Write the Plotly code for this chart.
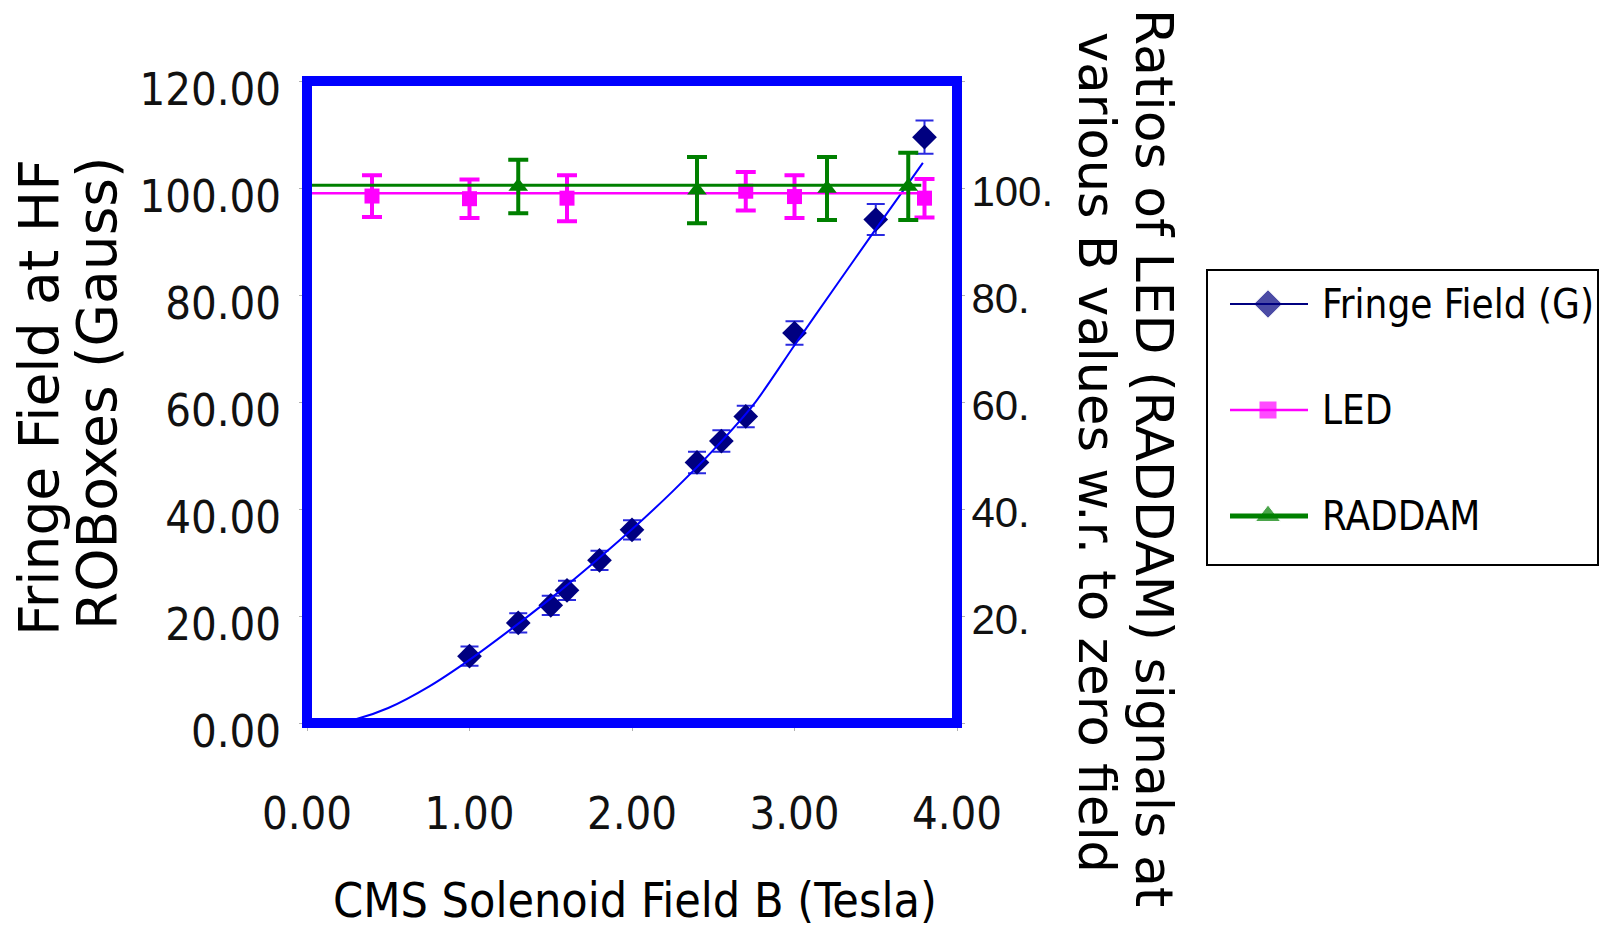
import plotly.graph_objects as go

W, H = 1601, 933

# ---------------- data ----------------
fringe_b = [1.0, 1.3, 1.5, 1.6, 1.8, 2.0, 2.4, 2.55, 2.7, 3.0, 3.5, 3.8]
fringe_g = [12.5, 18.7, 22.0, 24.8, 30.4, 36.1, 48.7, 52.7, 57.3, 72.9, 94.1, 109.5]
fringe_err = [1.8, 1.8, 1.8, 1.8, 1.8, 1.8, 2.0, 2.0, 2.0, 2.2, 2.9, 3.1]

fit_b = [0.16, 0.3, 0.5, 0.75, 1.0, 1.25, 1.5, 1.75, 2.0, 2.25, 2.5, 2.75, 3.0, 3.25, 3.5, 3.79]
fit_g = [0.0, 0.7, 2.8, 6.8, 11.8, 17.4, 23.3, 29.6, 36.2, 43.3, 51.0, 59.6, 70.6, 81.5, 92.3, 104.7]

led_b = [0.4, 1.0, 1.6, 2.7, 3.0, 3.8]
led_ratio = [98.5, 98.0, 98.1, 99.4, 98.4, 98.1]
led_err = [3.9, 3.6, 4.3, 3.6, 4.0, 3.6]

raddam_b = [1.3, 2.4, 3.2, 3.7]
raddam_ratio = [100.3, 99.6, 99.9, 100.3]
raddam_err = [5.0, 6.2, 5.9, 6.3]

led_fit_b = [0.0, 3.78]
led_fit = [99.0, 99.0]
raddam_fit_b = [0.0, 3.78]
raddam_fit = [100.5, 100.5]

x_ticks = [0, 1, 2, 3, 4]
left_ticks = [0, 20, 40, 60, 80, 100, 120]
right_ticks = [0, 20, 40, 60, 80, 100, 120]
right_ticktext = ["", "20.", "40.", "60.", "80.", "100.", ""]

legend_names = ["Fringe Field (G)", "LED", "RADDAM"]

# ---------------- styles ----------------
NARROW = "Liberation Sans Narrow, Arial Narrow, DejaVu Sans Condensed, sans-serif"
ARIAL = "Liberation Sans, Arial, sans-serif"
WIDE = "DejaVu Sans, Verdana, sans-serif"
NAVY = "#000080"
BLUE = "#0000FF"
PINK = "#FF00FF"
GREEN = "#008000"

# plot-area pixel box
PL, PR, PT, PB = 307, 957, 81, 723


def px(x):
    return x / W


def py(y):
    return 1 - y / H


fig = go.Figure()

# Fringe field points (navy diamonds with error bars)
fig.add_trace(go.Scatter(
    x=fringe_b, y=fringe_g, mode="markers", name=legend_names[0],
    marker=dict(symbol="diamond", size=19, color=NAVY),
    error_y=dict(type="data", array=fringe_err, color="#2a2ae0", thickness=2, width=9),
    xaxis="x", yaxis="y", showlegend=False,
))
# trend curve
fig.add_trace(go.Scatter(
    x=fit_b, y=fit_g, mode="lines",
    line=dict(color=BLUE, width=2, shape="spline", smoothing=0.8),
    xaxis="x", yaxis="y", showlegend=False, hoverinfo="skip",
))
# LED ratio
fig.add_trace(go.Scatter(
    x=led_fit_b, y=led_fit, mode="lines", line=dict(color=PINK, width=2.5),
    xaxis="x", yaxis="y2", showlegend=False, hoverinfo="skip",
))
fig.add_trace(go.Scatter(
    x=led_b, y=led_ratio, mode="markers", name=legend_names[1],
    marker=dict(symbol="square", size=15, color=PINK),
    error_y=dict(type="data", array=led_err, color=PINK, thickness=4, width=10),
    xaxis="x", yaxis="y2", showlegend=False,
))
# RADDAM ratio
fig.add_trace(go.Scatter(
    x=raddam_fit_b, y=raddam_fit, mode="lines", line=dict(color=GREEN, width=3),
    xaxis="x", yaxis="y2", showlegend=False, hoverinfo="skip",
))
fig.add_trace(go.Scatter(
    x=raddam_b, y=raddam_ratio, mode="markers", name=legend_names[2],
    marker=dict(symbol="triangle-up", size=17, color=GREEN),
    error_y=dict(type="data", array=raddam_err, color=GREEN, thickness=4, width=10),
    xaxis="x", yaxis="y2", showlegend=False,
))

# ---------------- custom legend ----------------
LEG_L, LEG_R, LEG_T, LEG_B = 1207, 1598, 270, 565
row_y = [304, 410, 516]
line_x0, line_x1, mark_x, text_x = 1230, 1308, 1268, 1320
leg_colors = [NAVY, PINK, GREEN]
leg_widths = [2, 2.5, 5]
leg_symbols = ["diamond", "square", "triangle-up"]
leg_sizes = [22, 18, 22]

shapes = [
    dict(type="rect", xref="paper", yref="paper",
         x0=px(LEG_L), x1=px(LEG_R), y0=py(LEG_B), y1=py(LEG_T),
         line=dict(color="black", width=2), fillcolor="white", layer="below"),
]
for yy, c, w in zip(row_y, leg_colors, leg_widths):
    shapes.append(dict(type="line", xref="paper", yref="paper",
                       x0=px(line_x0), x1=px(line_x1), y0=py(yy), y1=py(yy),
                       line=dict(color=c, width=w)))

fig.add_trace(go.Scatter(
    x=[mark_x] * 3, y=row_y, mode="markers",
    marker=dict(symbol=leg_symbols, size=leg_sizes, color=leg_colors),
    xaxis="x3", yaxis="y3", showlegend=False, hoverinfo="skip", cliponaxis=False,
))

# plot frame
shapes.append(dict(type="rect", xref="x domain", yref="y domain", x0=0, x1=1, y0=0, y1=1,
                   line=dict(color=BLUE, width=10), layer="above"))

annotations = []
for yy, name in zip(row_y, legend_names):
    annotations.append(dict(x=px(text_x), y=py(yy), xref="paper", yref="paper",
                            text=name, showarrow=False, xanchor="left", yanchor="middle",
                            font=dict(family=NARROW, size=40, color="black")))

# axis titles
annotations += [
    dict(x=px(39), y=py(398), xref="paper", yref="paper", text="Fringe Field at HF",
         textangle=-90, showarrow=False, xanchor="center", yanchor="middle",
         font=dict(family=WIDE, size=55, color="black")),
    dict(x=px(97), y=py(394), xref="paper", yref="paper", text="ROBoxes (Gauss)",
         textangle=-90, showarrow=False, xanchor="center", yanchor="middle",
         font=dict(family=WIDE, size=55, color="black")),
    dict(x=px(1154), y=py(458), xref="paper", yref="paper",
         text="Ratios of LED (RADDAM) signals at",
         textangle=90, showarrow=False, xanchor="center", yanchor="middle",
         font=dict(family=WIDE, size=52, color="black")),
    dict(x=px(1097), y=py(452), xref="paper", yref="paper",
         text="various B values w.r. to zero field",
         textangle=90, showarrow=False, xanchor="center", yanchor="middle",
         font=dict(family=WIDE, size=51, color="black")),
    dict(x=px(635), y=py(900), xref="paper", yref="paper",
         text="CMS Solenoid Field B (Tesla)",
         showarrow=False, xanchor="center", yanchor="middle",
         font=dict(family=NARROW, size=48, color="black")),
]

tick_common = dict(ticks="outside", tickcolor="#b0b0b0", ticklen=7, tickwidth=1,
                   showgrid=False, zeroline=False, showline=False)

fig.update_layout(
    width=W, height=H,
    margin=dict(l=0, r=0, t=0, b=0, autoexpand=False),
    paper_bgcolor="white", plot_bgcolor="rgba(0,0,0,0)",
    showlegend=False,
    xaxis=dict(domain=[px(PL), px(PR)], range=[0, 4], tickvals=x_ticks,
               tickformat=".2f", anchor="y", ticklabelstandoff=44,
               tickfont=dict(family=NARROW, size=45, color="#111"), **tick_common),
    yaxis=dict(domain=[py(PB), py(PT)], range=[0, 120], tickvals=left_ticks,
               tickformat=".2f", anchor="x", ticklabelstandoff=9, ticklabelshift=8,
               tickfont=dict(family=NARROW, size=45, color="#111"), **tick_common),
    yaxis2=dict(overlaying="y", side="right", anchor="x", range=[0, 120],
                tickvals=right_ticks, ticktext=right_ticktext, ticklabelstandoff=-2,
                ticklabelshift=3,
                tickfont=dict(family=ARIAL, size=42, color="#111"), **tick_common),
    xaxis3=dict(domain=[0, 1], range=[0, W], visible=False, anchor="y3", fixedrange=True),
    yaxis3=dict(domain=[0, 1], range=[H, 0], visible=False, anchor="x3", fixedrange=True),
    shapes=shapes,
    annotations=annotations,
)

fig.write_html("out.html", config={"displayModeBar": False},
               post_script="document.body.style.margin='0px';document.body.style.overflow='hidden';")
